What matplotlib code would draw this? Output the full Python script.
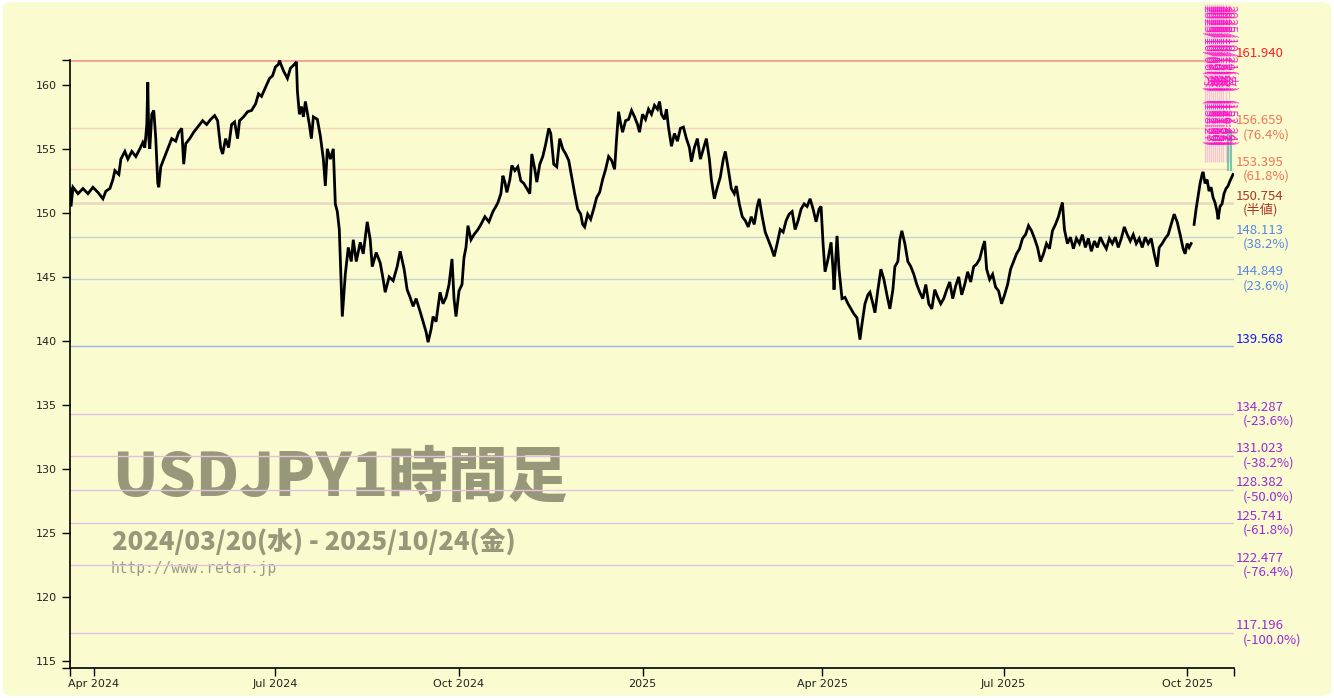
import numpy as np
import pandas as pd
import matplotlib
matplotlib.use("Agg")
import matplotlib.pyplot as plt
import matplotlib.dates as mdates
from matplotlib.patches import FancyBboxPatch

# --- data ---
start = pd.Timestamp("2024-03-20")
end = pd.Timestamp("2025-10-24 12:00")

# days since start, price
days = [0, 0.5, 1.5, 4, 6.5, 9, 11.5, 14, 16.5, 18, 20, 21.5, 22.5, 24.5, 25.5, 27.5, 29, 31, 33, 35,
        36.5, 37.5, 38.5, 39, 39.5, 40, 41, 42, 43, 44, 44.5, 45.5, 47.5, 49, 51, 53, 54.5, 56, 57, 58,
        60, 62, 64, 66.5, 68.5, 70.5, 72.5, 74, 75.5, 76.5, 78, 79.5, 81, 82.5, 84, 85, 87, 89, 91, 93,
        94.5, 96, 98, 100, 101.5, 103, 104.5, 105, 107, 109, 110.5, 112.5, 113.5, 114, 115, 116, 117, 118, 120, 121,
        122, 124, 125.5, 127, 128, 129, 130.5, 132, 133, 134, 135, 136.5, 138, 139.5, 141, 142, 143.5, 145.5, 147, 149,
        150.5, 151.5, 153.5, 155.5, 157, 158, 160, 162, 164, 165.5, 167.5, 169, 170.5, 172, 173.5, 175.5, 177, 178.5, 179.5, 181,
        182, 183.5, 185.5, 187, 188.5, 190, 191.5, 192.5, 193.5, 195, 196.5, 197.5, 198.5, 199.5, 201, 202.5, 204.5, 206, 208, 210,
        212, 213.5, 214.5, 216, 217, 218, 219, 220.5, 221.5, 223, 224.5, 226, 227.5, 229, 230.5, 231.5, 233, 234, 235.5, 237,
        238.5, 240, 241, 242.5, 244, 245.5, 247, 248.5, 250, 251.5, 253, 254.5, 256, 257, 258, 259.5, 261, 262.5, 264, 265.5,
        267, 268.5, 270, 271.5, 273, 274, 275, 276, 277, 278.5, 280, 281.5, 283, 284.5, 285.5, 287, 288.5, 290, 291.5, 293,
        294.5, 295.5, 296.5, 298, 299, 300, 301.5, 303, 304.5, 306, 307.5, 309, 310.5, 311.5, 313, 314.5, 316, 317.5, 319, 320.5,
        321.5, 323, 324.5, 326, 327.5, 328.5, 330, 331.5, 333, 334, 335.5, 337, 338.5, 340, 341.5, 343, 344.5, 345.5, 347, 348.5,
        350, 351.5, 353, 354.5, 356, 357.5, 359, 360.5, 362, 363.5, 365, 366.5, 368, 369.5, 371, 372.5, 374, 375.5, 376.5, 377.5,
        378.5, 380, 381.5, 382.5, 383, 384.5, 385.5, 387, 388.5, 390, 391.5, 393, 394.5, 395.5, 396, 397, 398.5, 400, 401, 402.5,
        403.5, 405, 406.5, 408, 409.5, 411, 412.5, 413.5, 415, 416, 417, 418.5, 420, 421.5, 423, 424.5, 426, 427.5, 429, 430.5,
        432, 433.5, 435, 436.5, 438, 439.5, 441, 442.5, 444, 445.5, 447, 448.5, 450, 451.5, 453, 454.5, 456, 457.5, 458.5, 459.5,
        461, 462.5, 464, 465.5, 467, 468.5, 470, 471.5, 473, 474.5, 476, 477.5, 479, 480.5, 482, 483.5, 485, 486.5, 488, 489.5,
        491, 492.5, 494, 495.5, 496.5, 497.5, 498.5, 500, 501.5, 503, 504.5, 506, 507.5, 509, 510.5, 512, 513.5, 515, 516.5, 518,
        519.5, 521, 522.5, 524, 525.5, 527, 528.5, 530, 531.5, 533, 534.5, 536, 537.5, 539, 540.5, 542, 543.5, 545, 546, 547.5,
        549, 550.5, 552, 553.5, 555, 556.5, 558, 559, 560, 561, 562, 562.5,
        563.5, 564.5, 565.5, 566.5, 567.5, 568, 569, 570, 571, 572, 573, 574, 575, 575.5, 576.5, 577.5, 578.5, 579.5, 580.5, 581.5, 583]
prices = [151.9, 150.5, 152.0, 151.5, 151.9, 151.5, 152.0, 151.6, 151.1, 151.7, 151.9, 152.6, 153.3, 153.0, 154.2, 154.8, 154.2, 154.8, 154.4, 155.0,
          155.5, 155.1, 156.9, 160.2, 155.8, 155.0, 157.7, 158.0, 155.8, 152.3, 152.0, 153.6, 154.4, 155.0, 155.8, 155.6, 156.3, 156.6, 153.8, 155.4,
          155.8, 156.3, 156.7, 157.2, 156.9, 157.3, 157.6, 157.2, 155.1, 154.6, 155.8, 155.1, 156.9, 157.1, 155.8, 157.2, 157.5, 157.9, 158.0, 158.5,
          159.3, 159.1, 159.8, 160.5, 160.7, 161.4, 161.6, 161.9, 161.1, 160.5, 161.3, 161.6, 161.8, 159.5, 157.7, 158.3, 157.5, 158.7, 156.9, 155.8,
          157.5, 157.3, 156.0, 154.2, 152.1, 155.0, 154.2, 155.0, 150.7, 150.1, 148.7, 141.9, 145.2, 147.3, 146.2, 147.9, 146.2, 147.7, 146.8, 149.3,
          147.9, 145.8, 146.9, 146.1, 144.8, 143.8, 145.0, 144.7, 145.8, 147.0, 145.6, 144.0, 143.4, 142.7, 143.3, 142.3, 141.5, 140.7, 139.9, 140.9,
          141.9, 141.5, 143.8, 142.9, 143.4, 144.4, 146.4, 143.3, 141.9, 143.9, 144.4, 146.5, 147.3, 149.0, 147.9, 148.3, 148.7, 149.1, 149.7, 149.3,
          150.1, 150.5, 150.8, 151.5, 152.9, 152.4, 151.6, 152.6, 153.7, 153.3, 153.6, 152.5, 152.3, 151.9, 151.5, 154.6, 153.4, 152.4, 153.8, 154.4,
          155.4, 156.6, 156.2, 153.8, 153.6, 155.8, 155.0, 154.6, 154.1, 152.8, 151.5, 150.3, 149.9, 149.1, 148.9, 149.9, 149.5, 150.3, 151.2, 151.6,
          152.6, 153.4, 154.4, 154.1, 153.4, 155.8, 157.9, 157.0, 156.3, 157.2, 157.3, 158.0, 157.5, 156.9, 156.3, 157.7, 157.3, 158.1, 157.7, 158.4,
          158.1, 158.7, 157.7, 157.3, 158.1, 156.7, 155.2, 156.2, 155.6, 156.6, 156.7, 155.8, 155.1, 154.0, 155.1, 155.8, 154.2, 155.0, 155.8, 154.2,
          152.6, 151.1, 152.0, 152.8, 154.2, 154.8, 153.4, 151.9, 151.5, 152.1, 150.7, 149.7, 149.4, 148.9, 149.7, 149.1, 150.5, 151.1, 149.7, 148.5,
          147.9, 147.3, 146.6, 147.6, 148.7, 148.5, 149.4, 149.9, 150.1, 148.7, 149.4, 150.3, 150.7, 150.5, 151.1, 150.3, 149.3, 150.3, 150.5, 147.6,
          145.4, 146.4, 147.7, 145.6, 144.0, 148.2, 145.6, 143.3, 143.4, 142.9, 142.5, 142.1, 141.8, 140.7, 140.1, 141.3, 142.9, 143.6, 143.8, 142.9,
          142.2, 144.0, 145.6, 144.8, 143.6, 142.5, 144.0, 145.8, 146.2, 147.9, 148.6, 147.6, 146.2, 145.8, 145.2, 144.4, 143.8, 143.3, 144.4, 142.9,
          142.5, 144.0, 143.4, 142.9, 143.3, 144.0, 144.6, 143.3, 144.3, 145.0, 143.6, 144.4, 145.4, 144.6, 145.8, 146.0, 146.4, 147.3, 147.8, 145.6,
          144.8, 145.2, 144.2, 143.9, 142.9, 143.6, 144.4, 145.6, 146.2, 146.8, 147.2, 148.0, 148.3, 149.0, 148.6, 148.0, 147.3, 146.2, 146.8, 147.6,
          147.2, 148.6, 149.1, 149.7, 150.3, 150.8, 148.7, 147.6, 148.1, 147.2, 148.0, 147.6, 148.3, 147.3, 148.0, 147.0, 147.8, 147.3, 148.1, 147.6,
          147.2, 148.0, 147.6, 148.1, 147.3, 148.0, 148.9, 148.3, 147.8, 148.3, 147.6, 148.0, 147.3, 148.1, 147.6, 148.0, 146.8, 145.8, 147.3, 147.6,
          148.0, 148.3, 149.1, 149.9, 149.3, 148.3, 147.2, 146.8, 147.6, 147.3, 147.6, np.nan,
          149.1, 150.3, 151.3, 152.3, 153.0, 153.2, 152.3, 152.6, 151.7, 152.0, 151.2, 150.8, 150.1, 149.5, 150.5, 150.7, 151.5, 151.9, 152.1, 152.5, 153.0]

fib_levels = [161.940, 156.659, 153.395, 150.754, 148.113, 144.849, 139.568,
              134.287, 131.023, 128.382, 125.741, 122.477, 117.196]
fib_notes = ["", "(76.4%)", "(61.8%)", "(半値)", "(38.2%)", "(23.6%)", "",
             "(-23.6%)", "(-38.2%)", "(-50.0%)", "(-61.8%)", "(-76.4%)", "(-100.0%)"]
fib_line_colors = ["#f4a294", "#f9d2bc", "#f9d2bc", "#eadbc2", "#c9d2d2", "#c9d2d2", "#a4acf0",
                   "#e2c2e2", "#e2c2e2", "#e2c2e2", "#e2c2e2", "#e2c2e2", "#e2c2e2"]
fib_text_colors = ["#ff2020", "#f07658", "#f07658", "#b03424", "#5a86e6", "#5a86e6", "#1414ff",
                   "#9a2ad6", "#9a2ad6", "#9a2ad6", "#9a2ad6", "#9a2ad6", "#9a2ad6"]

# recent event markers (top-right cluster)
event_days = [569, 570, 571, 572, 573, 574, 575, 576, 577, 578, 579.5, 581]
event_labels = ["2025/10/06(月)", "2025/10/07(火)", "2025/10/08(水)", "2025/10/09(木)",
                "2025/10/10(金)", "2025/10/13(月)", "2025/10/14(火)", "2025/10/15(水)",
                "2025/10/16(木)", "2025/10/17(金)", "2025/10/20(月)", "2025/10/21(火)"]
event_values = ["153.27", "152.68", "152.99", "153.00", "151.14", "152.60",
                "151.25", "151.06", "149.37", "150.41", "151.29", "152.24"]

bg = "#fafcd0"
title = "USDJPY1時間足"
period = "2024/03/20(水) - 2025/10/24(金)"
site = "http://www.retar.jp"
cjk = ["Noto Sans CJK JP", "DejaVu Sans"]

# --- figure ---
fig = plt.figure(figsize=(13.34, 6.98), dpi=100)
fig.patch.set_facecolor("white")
fig.patches.append(FancyBboxPatch((0.002, 0.003), 0.996, 0.994, boxstyle="round,pad=0,rounding_size=0.008",
                                  transform=fig.transFigure, facecolor=bg, edgecolor="none", zorder=-10))

ax = fig.add_axes([70 / 1334, 30 / 698, 1164 / 1334, 608 / 698])
ax.set_facecolor("none")

x = start + pd.to_timedelta(days, unit="D")

# watermark
ax.text(0.036, 0.312, title, transform=ax.transAxes, fontsize=43, fontweight="heavy",
        color="#97977a", family=cjk, va="center", zorder=0)
ax.text(0.036, 0.206, period, transform=ax.transAxes, fontsize=18.5, fontweight="heavy",
        color="#97977a", family=cjk, va="center", zorder=0)
ax.text(0.035, 0.164, site, transform=ax.transAxes, fontsize=10.5,
        color="#9a9a88", family="DejaVu Sans Mono", va="center", zorder=0)

for lvl, c in zip(fib_levels, fib_line_colors):
    lw = 2.0 if lvl in (150.754, 161.940) else 1.0
    ax.axhline(lvl, color=c, lw=lw, zorder=1)

# event markers
for d in event_days:
    ax.vlines(start + pd.Timedelta(days=d), 154.0, 166.3, color="#f7b6d6", lw=1.0, alpha=0.8,
              clip_on=False, zorder=2)
for d in event_days[-2:]:
    ax.vlines(start + pd.Timedelta(days=d + 1), 153.3, 156.5, color="#5cc0a0", lw=1.2,
              clip_on=False, zorder=2)
for d, lab, val in zip(event_days, event_labels, event_values):
    xd = start + pd.Timedelta(days=d + 1)
    ax.text(xd, 166.2, lab, rotation=-90, fontsize=9, color="#ff14c8", ha="center", va="top",
            family=cjk, clip_on=False, zorder=3, alpha=0.85)
    ax.text(xd, 158.8, "(" + val + ")", rotation=-90, fontsize=9, color="#ff14c8", ha="center", va="top",
            family=cjk, clip_on=False, zorder=3, alpha=0.85)

# price line
ax.plot(x, prices, color="black", lw=2.0, solid_joinstyle="miter", zorder=4)

# fib labels
for lvl, note, c in zip(fib_levels, fib_notes, fib_text_colors):
    ax.annotate(f"{lvl:.3f}", (1, lvl), xycoords=("axes fraction", "data"), xytext=(1, 5),
                textcoords="offset points", fontsize=9.5, color=c, va="center", ha="left",
                family=cjk, annotation_clip=False)
    if note:
        ax.annotate(note, (1, lvl), xycoords=("axes fraction", "data"), xytext=(6, -5),
                    textcoords="offset points", fontsize=9.5, color=c, va="center", ha="left",
                    family=cjk, annotation_clip=False)

ax.set_xlim(start, end)
ax.set_ylim(114.45, 161.94)

ax.xaxis.set_major_locator(mdates.MonthLocator(bymonth=[1, 4, 7, 10]))
ax.xaxis.set_major_formatter(plt.FuncFormatter(
    lambda v, p: mdates.num2date(v).strftime("%Y") if mdates.num2date(v).month == 1
    else mdates.num2date(v).strftime("%b %Y")))
ax.set_xticks([mdates.date2num(start), mdates.date2num(end)], minor=True)
ax.set_yticks(np.arange(115, 161, 5))
ax.set_yticks([114.45, 161.94], minor=True)

ax.tick_params(axis="both", which="both", length=6, width=1, color="black", labelsize=8, labelcolor="#222222")
ax.tick_params(axis="x", pad=2)
for s in ("top", "right"):
    ax.spines[s].set_visible(False)
for s in ("left", "bottom"):
    ax.spines[s].set_linewidth(1.2)

fig.savefig("out.png", dpi=100, facecolor=fig.get_facecolor())
